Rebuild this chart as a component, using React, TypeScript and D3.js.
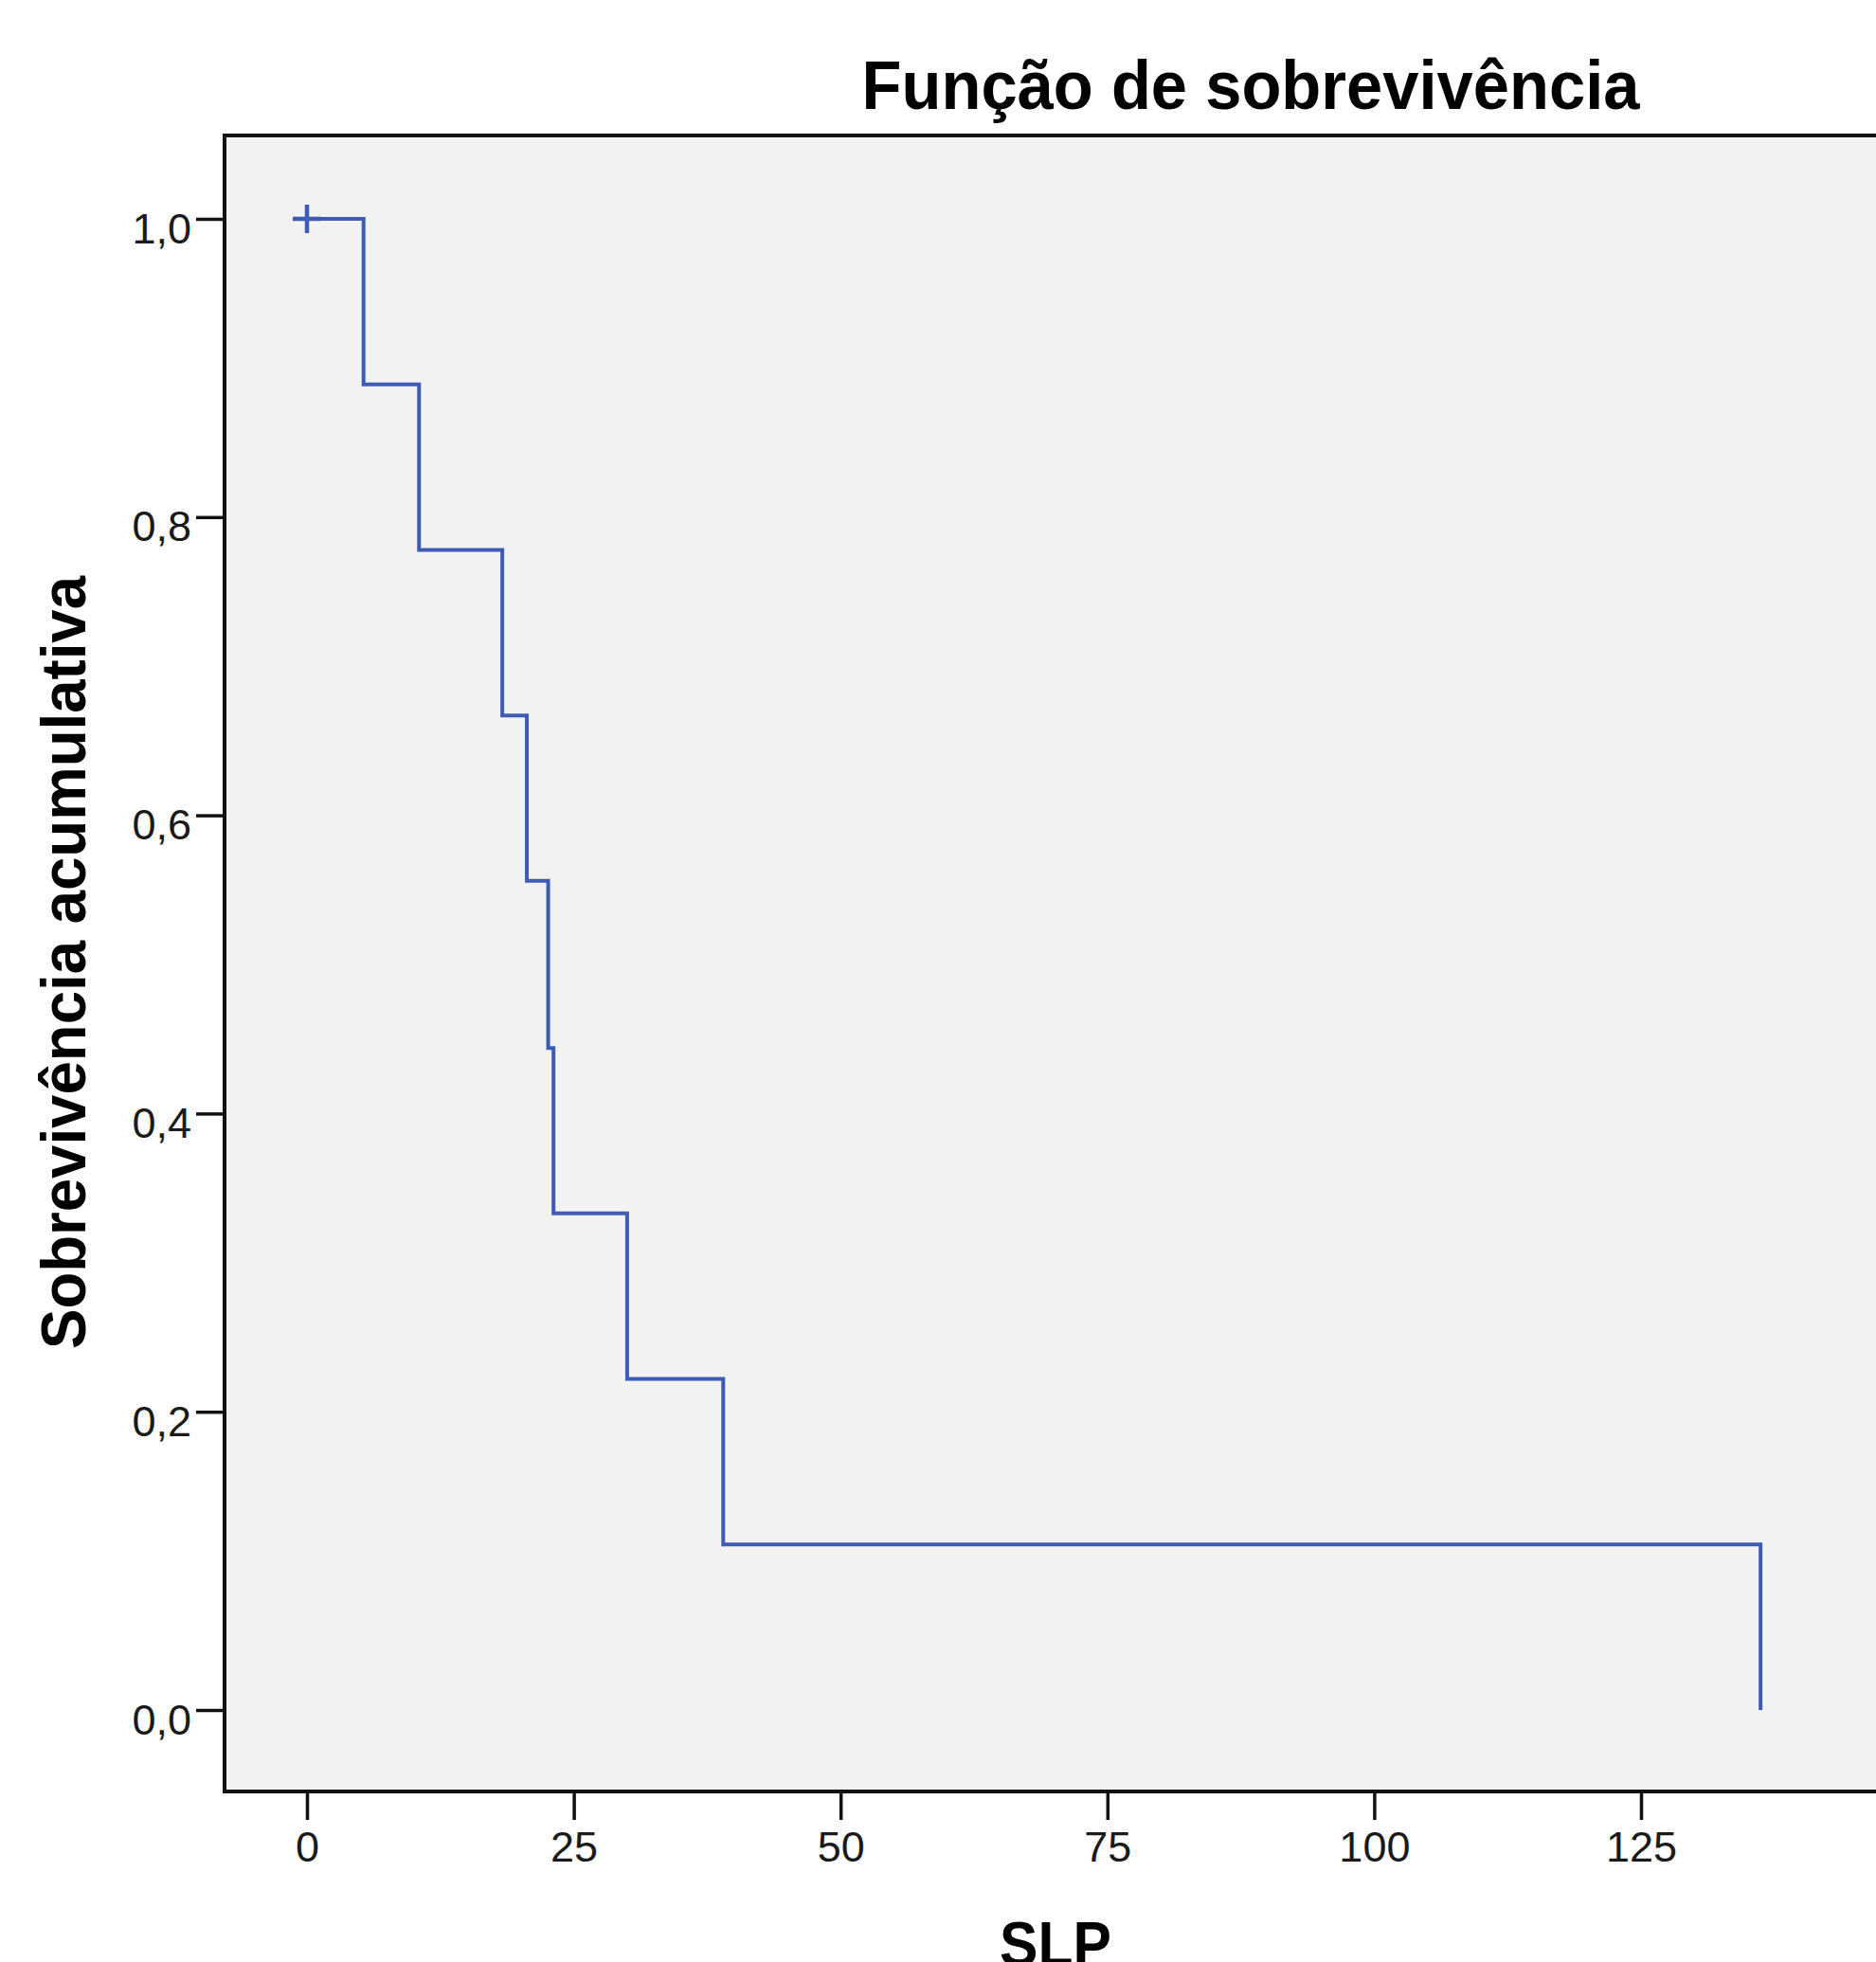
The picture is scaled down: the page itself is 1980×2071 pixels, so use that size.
import React, { useEffect, useRef } from "react";
import * as d3 from "d3";

// Kaplan-Meier estimate
const eventTimes = [0, 5.3, 10.5, 18.3, 20.6, 22.6, 23.1, 30.0, 39.0, 136.2];
const survival = [1.0, 0.889, 0.778, 0.667, 0.556, 0.444, 0.333, 0.222, 0.111, 0.0];
const censoredTimes = [0];
const censoredValues = [1.0];

const xTicks = [0, 25, 50, 75, 100, 125];
const yTicks = [0, 0.2, 0.4, 0.6, 0.8, 1.0];

const title = "Função de sobrevivência";
const xTitle = "SLP";
const yTitle = "Sobrevivência acumulativa";

const W = 1980;
const H = 2071;
const FONT = "'Liberation Sans', Arial, sans-serif";
const LINE = "#3e5bb6";

const App = () => {
  const ref = useRef<SVGSVGElement>(null);

  useEffect(() => {
    const svg = d3.select(ref.current);
    svg.selectAll("*").remove();

    const frame = { left: 237, top: 143, right: 2100, bottom: 1891 };
    const x = d3.scaleLinear().domain([0, 125]).range([324, 1732]);
    const y = d3.scaleLinear().domain([0, 1]).range([1805, 231]);

    const locale = d3.formatLocale({ decimal: ",", thousands: ".", grouping: [3], currency: ["", ""] });
    const fmt = locale.format(".1f");

    // plot background + frame
    svg.append("rect")
      .attr("x", frame.left)
      .attr("y", frame.top)
      .attr("width", frame.right - frame.left)
      .attr("height", frame.bottom - frame.top)
      .attr("fill", "#f1f2f1")
      .attr("stroke", "#111")
      .attr("stroke-width", 4);

    // axes
    const xAxis = d3.axisBottom(x).tickValues(xTicks).tickSize(30).tickPadding(12).tickFormat(d3.format("d"));
    const gx = svg.append("g").attr("transform", `translate(0,${frame.bottom})`).call(xAxis);
    gx.select(".domain").remove();
    gx.selectAll(".tick line").attr("stroke", "#111").attr("stroke-width", 3.5);
    gx.selectAll(".tick text")
      .attr("font-family", FONT)
      .attr("font-size", 45)
      .attr("fill", "#1a1a1a");

    const yAxis = d3.axisLeft(y).tickValues(yTicks).tickSize(30).tickPadding(5).tickFormat(d => fmt(d as number));
    const gy = svg.append("g").attr("transform", `translate(${frame.left},0)`).call(yAxis);
    gy.select(".domain").remove();
    gy.selectAll(".tick line").attr("stroke", "#111").attr("stroke-width", 3.5);
    gy.selectAll(".tick text")
      .attr("font-family", FONT)
      .attr("font-size", 45)
      .attr("fill", "#1a1a1a")
      .attr("dy", 25);

    // survival curve
    const pts: [number, number][] = eventTimes.map((t, i) => [t, survival[i]]);
    const line = d3.line<[number, number]>()
      .x(d => x(d[0]))
      .y(d => y(d[1]))
      .curve(d3.curveStepAfter);

    svg.append("path")
      .attr("d", line(pts))
      .attr("fill", "none")
      .attr("stroke", LINE)
      .attr("stroke-width", 4);

    // censor marks
    const cens = svg.append("g");
    censoredTimes.forEach((t, i) => {
      const cx = x(t);
      const cy = y(censoredValues[i]);
      cens.append("path")
        .attr("d", `M${cx - 15},${cy}H${cx + 15}M${cx},${cy - 15}V${cy + 15}`)
        .attr("stroke", LINE)
        .attr("stroke-width", 4.5)
        .attr("fill", "none");
    });

    // titles
    svg.append("text")
      .attr("x", 1320)
      .attr("y", 115)
      .attr("text-anchor", "middle")
      .attr("font-family", FONT)
      .attr("font-weight", "bold")
      .attr("font-size", 72)
      .attr("textLength", 821)
      .attr("lengthAdjust", "spacingAndGlyphs")
      .text(title);

    svg.append("text")
      .attr("x", 1114)
      .attr("y", 2075)
      .attr("text-anchor", "middle")
      .attr("font-family", FONT)
      .attr("font-weight", "bold")
      .attr("font-size", 66)
      .attr("textLength", 118)
      .attr("lengthAdjust", "spacingAndGlyphs")
      .text(xTitle);

    svg.append("text")
      .attr("transform", `translate(90,1016) rotate(-90)`)
      .attr("text-anchor", "middle")
      .attr("font-family", FONT)
      .attr("font-weight", "bold")
      .attr("font-size", 66)
      .attr("textLength", 816)
      .attr("lengthAdjust", "spacingAndGlyphs")
      .text(yTitle);
  }, []);

  return (
    <div style={{ position: "absolute", left: 0, top: 0, width: W, height: H, overflow: "hidden", background: "#fff" }}>
      <svg ref={ref} width={W} height={H} style={{ display: "block" }} />
    </div>
  );
};

export default App;
